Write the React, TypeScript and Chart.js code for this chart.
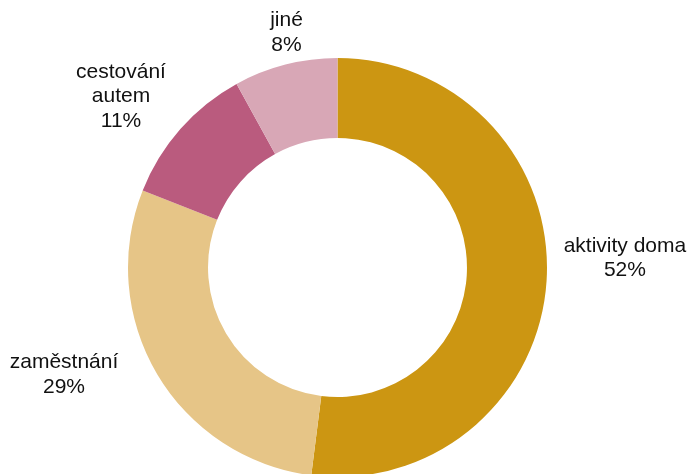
import React, { useEffect, useRef } from "react";
import { Chart, registerables } from "chart.js";

Chart.register(...registerables);

// Data
const categories: string[][] = [
  ["aktivity doma"],
  ["zaměstnání"],
  ["cestování", "autem"],
  ["jiné"],
];
const shares: number[] = [52, 29, 11, 8];
const sliceColors: string[] = ["#CC9612", "#E6C587", "#BA5B7E", "#D8A7B6"];
// label placement relative to the ring centre, in units of the outer radius (x centre, first baseline)
const labelPlacement: [number, number][] = [
  [1.372, -0.076],
  [-1.3055, 0.482],
  [-1.0334, -0.9045],
  [-0.2434, -1.1504],
];

const FONT_SIZE = 21;
const LINE_HEIGHT = 24.4;

const outsideLabels = {
  id: "outsideLabels",
  afterDatasetsDraw(chart: any) {
    const ctx = chart.ctx as CanvasRenderingContext2D;
    const meta = chart.getDatasetMeta(0);
    const data = chart.data.datasets[0].data as number[];
    const total = data.reduce((a, b) => a + b, 0);
    ctx.save();
    ctx.font = `${FONT_SIZE}px "Liberation Sans", Arial, sans-serif`;
    ctx.fillStyle = "#111111";
    ctx.textAlign = "center";
    ctx.textBaseline = "alphabetic";
    meta.data.forEach((arc: any, i: number) => {
      const { x, y, outerRadius } = arc.getProps(["x", "y", "outerRadius"], true);
      const [fx, fy] = labelPlacement[i];
      const lx = x + fx * outerRadius;
      const ly = y + fy * outerRadius;
      const lines = [...categories[i], `${Math.round((data[i] / total) * 100)}%`];
      lines.forEach((t, k) => ctx.fillText(t, lx, ly + k * LINE_HEIGHT));
    });
    ctx.restore();
  },
};

export default function App() {
  const ref = useRef<HTMLCanvasElement | null>(null);
  useEffect(() => {
    if (!ref.current) return;
    const chart = new Chart(ref.current, {
      type: "doughnut",
      data: {
        labels: categories.map((c) => c.join(" ")),
        datasets: [
          {
            data: shares,
            backgroundColor: sliceColors,
            borderWidth: 0,
            radius: 209.5,
            cutout: "61.8%",
          } as any,
        ],
      },
      options: {
        responsive: false,
        animation: false,
        devicePixelRatio: 1,
        layout: { padding: { top: 61, bottom: 0, left: 0, right: 13 } },
        plugins: {
          legend: { display: false },
          tooltip: { enabled: false },
        },
      },
      plugins: [outsideLabels],
    });
    return () => chart.destroy();
  }, []);
  return (
    <div
      style={{
        position: "fixed",
        left: 0,
        top: 0,
        width: 688,
        height: 474,
        overflow: "hidden",
        background: "#ffffff",
      }}
    >
      <canvas ref={ref} width={688} height={474} style={{ display: "block" }} />
    </div>
  );
}
